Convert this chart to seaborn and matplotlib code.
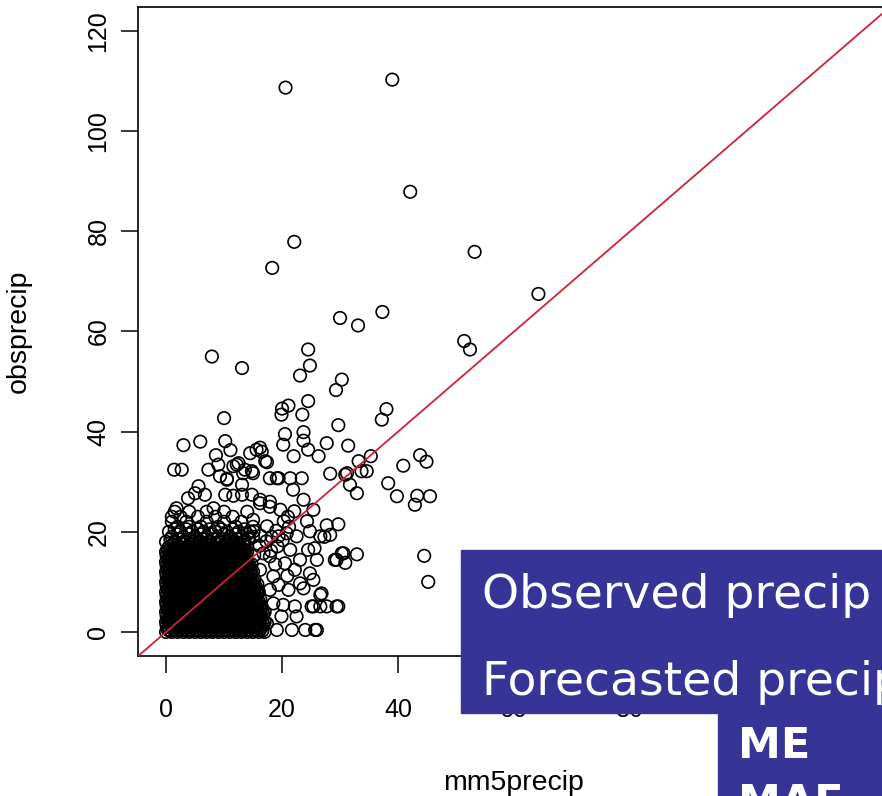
import matplotlib
matplotlib.use('Agg')
import matplotlib.pyplot as plt
import pandas as pd
import seaborn as sns

# scattered points outside the dense core (mm5precip, obsprecip)
sparse_x = [20.6, 39.0, 42.1, 22.1, 18.3, 53.2, 64.2, 30.0, 33.1, 37.3, 51.4, 52.4,
            7.9, 24.5, 13.1, 24.8, 23.1, 30.3, 29.3, 24.5, 21.1, 19.9, 20.0, 23.5,
            10.0, 29.7, 38.0, 37.2,
            3.0, 5.9, 10.2, 11.1, 8.6, 16.2, 16.5, 14.5, 15.6, 20.5, 23.7, 23.7,
            20.2, 22.0, 24.5, 26.3, 27.7, 31.4, 33.2, 35.3, 43.8, 44.9, 40.9, 38.3,
            39.8, 43.3, 45.5, 42.9, 1.4, 2.7, 7.3, 9.0, 12.2, 11.6, 12.5, 17.1,
            17.4, 13.6, 14.8, 9.3, 10.5, 28.3, 31.2, 33.7, 34.6, 30.9, 31.7, 32.9,
            17.9, 19.1, 19.4, 21.4, 23.4, 15.0, 13.3, 10.5, 5.6, 6.7, 3.8, 5.0,
            10.2, 11.6, 13.1, 14.8, 16.2, 13.1, 1.8, 1.0, 8.2, 17.9, 19.7, 21.9,
            23.7, 25.4, 24.3, 24.8, 20.8, 22.5, 16.2, 17.9, 15.0, 17.4, 19.4, 29.7,
            27.7, 28.3, 26.6, 27.3, 30.3, 32.9, 29.1, 30.9, 44.5, 45.2, 30.6, 29.4,
            26.0, 24.8, 25.4, 23.7, 26.6, 26.8, 25.4, 26.6, 27.7, 29.4, 29.7, 25.1,
            22.2, 20.2, 26.0, 24.0, 21.7, 19.9, 18.5, 19.4, 23.1, 24.5, 25.6, 21.4,
            17.9, 20.5, 22.2, 16.8, 16.2, 23.1, 21.1, 17.9, 18.5, 22.5, 17.4, 19.1,
            25.7, 15.2, 16.1, 17.3, 18.2, 19.0, 20.3, 21.2, 18.1, 19.2, 20.1, 21.0,
            22.1, 16.3, 15.1, 14.2, 13.4, 18.8, 20.9]
sparse_y = [108.7, 110.3, 87.9, 77.9, 72.7, 75.9, 67.5, 62.7, 61.2, 63.9, 58.1, 56.4,
            55.0, 56.4, 52.7, 53.2, 51.2, 50.4, 48.3, 46.1, 45.2, 43.4, 44.6, 43.4,
            42.7, 41.3, 44.5, 42.4,
            37.3, 38.0, 38.1, 36.3, 35.3, 36.8, 36.0, 35.7, 36.4, 39.5, 39.9, 38.2,
            37.4, 35.1, 36.4, 35.1, 37.7, 37.2, 34.1, 35.1, 35.3, 34.0, 33.2, 29.7,
            27.1, 27.2, 27.1, 25.4, 32.4, 32.4, 32.4, 33.4, 33.4, 33.1, 33.7, 34.1,
            33.9, 32.4, 32.1, 31.1, 30.6, 31.6, 31.7, 32.1, 32.1, 31.4, 29.4, 27.7,
            30.7, 30.7, 30.7, 30.7, 30.7, 31.7, 31.7, 30.4, 29.1, 27.4, 26.7, 27.7,
            27.4, 27.2, 27.4, 27.4, 26.4, 29.4, 24.7, 23.0, 24.7, 26.0, 24.4, 28.4,
            26.4, 24.4, 22.1, 20.1, 19.7, 19.1, 25.7, 25.0, 22.4, 21.1, 19.1, 21.5,
            21.3, 19.4, 19.1, 19.0, 15.7, 15.5, 14.4, 13.8, 15.2, 10.0, 15.7, 14.4,
            14.4, 11.7, 10.4, 8.7, 7.4, 7.7, 5.1, 5.1, 5.1, 5.1, 5.1, 5.1,
            5.1, 5.4, 0.4, 0.4, 0.4, 3.1, 11.1, 9.4, 14.4, 16.4, 16.7, 16.4,
            15.1, 13.7, 12.4, 15.7, 12.4, 9.7, 8.4, 8.4, 5.7, 3.1, 1.7, 0.4,
            0.4, 15.3, 17.2, 18.1, 19.0, 20.2, 22.1, 21.0, 16.2, 17.1, 18.3, 23.0,
            24.1, 19.2, 20.1, 18.8, 17.9, 13.5, 11.2]

# dense core: obsprecip row value -> mm5precip values in that row
dense_rows = {
    0: [0, 1, 2, 3, 4, 5, 6, 7, 8, 9, 10, 11, 12, 13, 14, 15, 16, 17],
    0.25: [0.6, 1.6, 2.6, 3.6, 4.6, 5.6, 6.6, 7.6, 8.6, 9.6, 10.6, 11.6, 12.6, 13.6, 14.6, 15.6, 16.6],
    0.5: [0.25, 1.25, 2.25, 3.25, 4.25, 5.25, 6.25, 7.25, 8.25, 9.25, 10.25, 11.25, 12.25, 13.25, 14.25, 15.25, 16.25],
    1: [0.5, 1.5, 2.5, 3.5, 4.5, 5.5, 6.5, 7.5, 8.5, 9.5, 10.5, 11.5, 12.5, 13.5, 14.5, 15.5, 16.5],
    1.25: [0.1, 1.1, 2.1, 3.1, 4.1, 5.1, 6.1, 7.1, 8.1, 9.1, 10.1, 11.1, 12.1, 13.1, 14.1, 15.1, 16.1],
    1.5: [0.75, 1.75, 2.75, 3.75, 4.75, 5.75, 6.75, 7.75, 8.75, 9.75, 10.75, 11.75, 12.75, 13.75, 14.75, 15.75, 16.75],
    2: [0, 1, 2, 3, 4, 5, 6, 7, 8, 9, 10, 11, 12, 13, 14, 15, 16, 17],
    2.25: [0.6, 1.6, 2.6, 3.6, 4.6, 5.6, 6.6, 7.6, 8.6, 9.6, 10.6, 11.6, 12.6, 13.6, 14.6, 15.6, 16.6],
    2.5: [0.25, 1.25, 2.25, 3.25, 4.25, 5.25, 6.25, 7.25, 8.25, 9.25, 10.25, 11.25, 12.25, 13.25, 14.25, 15.25, 16.25],
    3: [0.5, 1.5, 2.5, 3.5, 4.5, 5.5, 6.5, 7.5, 8.5, 9.5, 10.5, 11.5, 12.5, 13.5, 14.5, 15.5, 16.5],
    3.25: [0.1, 1.1, 2.1, 3.1, 4.1, 5.1, 6.1, 7.1, 8.1, 9.1, 10.1, 11.1, 12.1, 13.1, 14.1, 15.1, 16.1],
    3.5: [0.75, 1.75, 2.75, 3.75, 4.75, 5.75, 6.75, 7.75, 8.75, 9.75, 10.75, 11.75, 12.75, 13.75, 14.75, 15.75, 16.75],
    4: [0, 1, 2, 3, 4, 5, 6, 7, 8, 9, 10, 11, 12, 13, 14, 15, 16, 17],
    4.25: [0.6, 1.6, 2.6, 3.6, 4.6, 5.6, 6.6, 7.6, 8.6, 9.6, 10.6, 11.6, 12.6, 13.6, 14.6, 15.6, 16.6],
    4.5: [0.25, 1.25, 2.25, 3.25, 4.25, 5.25, 6.25, 7.25, 8.25, 9.25, 10.25, 11.25, 12.25, 13.25, 14.25, 15.25, 16.25],
    5: [0.5, 1.5, 2.5, 3.5, 4.5, 5.5, 6.5, 7.5, 8.5, 9.5, 10.5, 11.5, 12.5, 13.5, 14.5, 15.5, 16.5],
    5.25: [0.1, 1.1, 2.1, 3.1, 4.1, 5.1, 6.1, 7.1, 8.1, 9.1, 10.1, 11.1, 12.1, 13.1, 14.1, 15.1, 16.1],
    5.5: [0.75, 1.75, 2.75, 3.75, 4.75, 5.75, 6.75, 7.75, 8.75, 9.75, 10.75, 11.75, 12.75, 13.75, 14.75, 15.75],
    6: [0, 1, 2, 3, 4, 5, 6, 7, 8, 9, 10, 11, 12, 13, 14, 15, 16],
    6.25: [0.6, 1.6, 2.6, 3.6, 4.6, 5.6, 6.6, 7.6, 8.6, 9.6, 10.6, 11.6, 12.6, 13.6, 14.6, 15.6],
    6.5: [0.25, 1.25, 2.25, 3.25, 4.25, 5.25, 6.25, 7.25, 8.25, 9.25, 10.25, 11.25, 12.25, 13.25, 14.25, 15.25, 16.25],
    7: [0.5, 1.5, 2.5, 3.5, 4.5, 5.5, 6.5, 7.5, 8.5, 9.5, 10.5, 11.5, 12.5, 13.5, 14.5, 15.5],
    7.25: [0.1, 1.1, 2.1, 3.1, 4.1, 5.1, 6.1, 7.1, 8.1, 9.1, 10.1, 11.1, 12.1, 13.1, 14.1, 15.1],
    7.5: [0.75, 1.75, 2.75, 3.75, 4.75, 5.75, 6.75, 7.75, 8.75, 9.75, 10.75, 11.75, 12.75, 13.75, 14.75, 15.75],
    8: [0, 1, 2, 3, 4, 5, 6, 7, 8, 9, 10, 11, 12, 13, 14, 15, 16],
    8.25: [0.6, 1.6, 2.6, 3.6, 4.6, 5.6, 6.6, 7.6, 8.6, 9.6, 10.6, 11.6, 12.6, 13.6, 14.6, 15.6],
    8.5: [0.25, 1.25, 2.25, 3.25, 4.25, 5.25, 6.25, 7.25, 8.25, 9.25, 10.25, 11.25, 12.25, 13.25, 14.25, 15.25],
    9: [0.5, 1.5, 2.5, 3.5, 4.5, 5.5, 6.5, 7.5, 8.5, 9.5, 10.5, 11.5, 12.5, 13.5, 14.5, 15.5],
    9.25: [0.1, 1.1, 2.1, 3.1, 4.1, 5.1, 6.1, 7.1, 8.1, 9.1, 10.1, 11.1, 12.1, 13.1, 14.1, 15.1],
    9.5: [0.75, 1.75, 2.75, 3.75, 4.75, 5.75, 6.75, 7.75, 8.75, 9.75, 10.75, 11.75, 12.75, 13.75, 14.75, 15.75],
    10: [0, 1, 2, 3, 4, 5, 6, 7, 8, 9, 10, 11, 12, 13, 14, 15],
    10.25: [0.6, 1.6, 2.6, 3.6, 4.6, 5.6, 6.6, 7.6, 8.6, 9.6, 10.6, 11.6, 12.6, 13.6, 14.6],
    10.5: [0.25, 1.25, 2.25, 3.25, 4.25, 5.25, 6.25, 7.25, 8.25, 9.25, 10.25, 11.25, 12.25, 13.25, 14.25, 15.25],
    11: [0.5, 1.5, 2.5, 3.5, 4.5, 5.5, 6.5, 7.5, 8.5, 9.5, 10.5, 11.5, 12.5, 13.5, 14.5],
    11.25: [0.1, 1.1, 2.1, 3.1, 4.1, 5.1, 6.1, 7.1, 8.1, 9.1, 10.1, 11.1, 12.1, 13.1, 14.1],
    11.5: [0.75, 1.75, 2.75, 3.75, 4.75, 5.75, 6.75, 7.75, 8.75, 9.75, 10.75, 11.75, 12.75, 13.75, 14.75],
    12: [0, 1, 2, 3, 4, 5, 6, 7, 8, 9, 10, 11, 12, 13, 14, 15],
    12.25: [0.6, 1.6, 2.6, 3.6, 4.6, 5.6, 6.6, 7.6, 8.6, 9.6, 10.6, 11.6, 12.6, 13.6, 14.6],
    12.5: [0.25, 1.25, 2.25, 3.25, 4.25, 5.25, 6.25, 7.25, 8.25, 9.25, 10.25, 11.25, 12.25, 13.25, 14.25],
    13: [0.5, 1.5, 2.5, 3.5, 4.5, 5.5, 6.5, 7.5, 8.5, 9.5, 10.5, 11.5, 12.5, 13.5, 14.5],
    13.25: [0.1, 1.1, 2.1, 3.1, 4.1, 5.1, 6.1, 7.1, 8.1, 9.1, 10.1, 11.1, 12.1, 13.1, 14.1],
    13.5: [0.75, 1.75, 2.75, 3.75, 4.75, 5.75, 6.75, 7.75, 8.75, 9.75, 10.75, 11.75, 12.75, 13.75, 14.75],
    14: [0, 1, 2, 3, 4, 5, 6, 7, 8, 9, 10, 11, 12, 13, 14],
    14.25: [0.6, 1.6, 2.6, 3.6, 4.6, 5.6, 6.6, 7.6, 8.6, 9.6, 10.6, 11.6, 12.6, 13.6],
    14.5: [0.25, 1.25, 2.25, 3.25, 4.25, 5.25, 6.25, 7.25, 8.25, 9.25, 10.25, 11.25, 12.25, 13.25],
    15: [0.5, 1.5, 2.5, 3.5, 4.5, 5.5, 6.5, 7.5, 8.5, 9.5, 10.5, 11.5, 12.5, 13.5],
    15.25: [0.1, 1.1, 2.1, 3.1, 4.1, 5.1, 6.1, 7.1, 8.1, 9.1, 10.1, 11.1, 12.1, 13.1],
    15.5: [0.75, 1.75, 2.75, 3.75, 4.75, 5.75, 6.75, 7.75, 8.75, 9.75, 10.75, 11.75, 12.75, 13.75],
    16: [0, 1, 2, 3, 4, 5, 6, 7, 8, 9, 10, 11, 12, 13, 14],
    16.25: [0.6, 1.6, 2.6, 3.6, 4.6, 5.6, 6.6, 7.6, 8.6, 9.6, 10.6, 11.6, 12.6, 13.6],
    16.5: [0.25, 1.25, 2.25, 3.25, 4.25, 5.25, 6.25, 7.25, 8.25, 9.25, 10.25, 11.25, 12.25, 13.25],
    17: [0.5, 2, 3.5, 5, 6.5, 8, 9.5, 11, 12.5, 14],
    17.5: [1.25, 2.75, 4.25, 5.75, 7.25, 8.75, 10.25, 11.75, 13.25],
    18: [0, 1.5, 3, 4.5, 6, 7.5, 9, 10.5, 12, 13.5],
    18.5: [0.75, 2.25, 3.75, 5.25, 6.75, 8.25, 9.75, 11.25, 12.75, 14.25],
    19: [1, 3, 5, 7, 9, 11, 13, 15],
    19.5: [2, 4, 6, 8, 10, 12, 14],
    20: [0.5, 2.5, 4.5, 6.5, 8.5, 10.5, 12.5, 14.5],
    20.5: [1.5, 3.5, 5.5, 7.5, 9.5, 11.5, 13.5],
    21: [2, 4, 6, 9, 12, 15],
    22: [1, 3.5, 7, 10, 13],
    23: [2.5, 5.5, 8.5, 11.5],
    24: [1.5, 4, 7, 10, 14],
}

axis_limits = [0, 120]
tick_values = [0, 20, 40, 60, 80, 100, 120]
ref_slope = 1

rows = []
for yv, xs in dense_rows.items():
    for xv in xs:
        rows.append((xv, yv))
for xv, yv in zip(sparse_x, sparse_y):
    rows.append((xv, yv))
df = pd.DataFrame(rows, columns=['mm5precip', 'obsprecip'])

plt.rcParams['font.family'] = ['Liberation Sans', 'DejaVu Sans']

fig = plt.figure(figsize=(8.82, 7.96), dpi=100)
ax = fig.add_axes([0.1567, 0.1759, 0.8523, 0.8153])

sns.scatterplot(data=df, x='mm5precip', y='obsprecip', ax=ax, marker='o', s=81,
                facecolor='none', edgecolor='black', linewidth=1.2)
ax.collections[0].set_facecolor('none')

# R style 4% range extension
ext = (axis_limits[1] - axis_limits[0]) * 0.04
ax.set_xlim(axis_limits[0] - ext, axis_limits[1] + ext)
ax.set_ylim(axis_limits[0] - ext, axis_limits[1] + ext)
ax.axline((0, 0), slope=ref_slope, color='#d0203a', lw=1.3, zorder=3)

ax.set_xticks(tick_values)
ax.set_yticks(tick_values)
ax.tick_params(axis='both', length=12, width=1.1, labelsize=18, color='black')
ax.tick_params(axis='x', pad=18)
ax.tick_params(axis='y', labelrotation=90, pad=8)
for lab in ax.get_yticklabels():
    lab.set_va('center')
for sp in ax.spines.values():
    sp.set_linewidth(1.2)
    sp.set_color('black')

ax.set_xlabel('mm5precip', fontsize=20.5)
ax.set_ylabel('obsprecip', fontsize=20.5)
ax.xaxis.set_label_coords(0.4986, -0.1757)
ax.yaxis.set_label_coords(-0.142, 0.5)

# slide overlay boxes
box_color = '#363597'
fig.add_artist(plt.Rectangle((0.5227, 0.1043), 0.5, 0.2048, transform=fig.transFigure,
                             color=box_color, zorder=10))
fig.add_artist(plt.Rectangle((0.8141, 0.0), 0.3, 0.1043, transform=fig.transFigure,
                             color=box_color, zorder=10))
fig.text(0.546, 0.2362, 'Observed precip', color='white', fontsize=34,
         family='DejaVu Sans', va='baseline', zorder=11)
fig.text(0.546, 0.1269, 'Forecasted precip', color='white', fontsize=34,
         family='DejaVu Sans', va='baseline', zorder=11)
fig.text(0.8367, 0.0474, 'ME', color='white', fontsize=31, fontweight='bold',
         family='DejaVu Sans', va='baseline', zorder=11)
fig.text(0.8367, -0.0239, 'MAE', color='white', fontsize=31, fontweight='bold',
         family='DejaVu Sans', va='baseline', zorder=11)

fig.savefig('out.png', dpi=100)
